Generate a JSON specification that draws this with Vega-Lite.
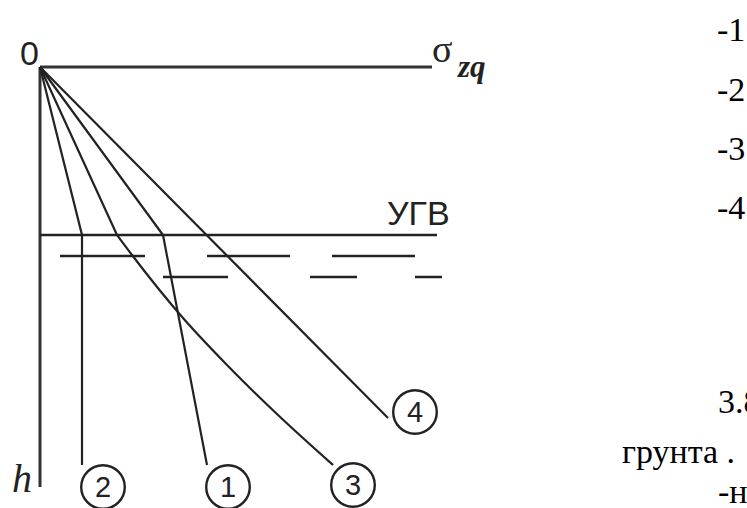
{
  "$schema": "https://vega.github.io/schema/vega-lite/v6.json",
  "width": 747,
  "height": 508,
  "autosize": "none",
  "padding": 0,
  "background": "white",
  "config": {"view": {"stroke": null}},
  "datasets": {
    "rules": [
      {"kind": "axis", "s": 0, "s2": 392, "h": 0, "h2": 0},
      {"kind": "axis", "s": 0, "s2": 0, "h": 0, "h2": 420},
      {"kind": "ugv", "s": 0, "s2": 397, "h": 168, "h2": 168},
      {"kind": "dash", "s": 20, "s2": 105, "h": 189, "h2": 189},
      {"kind": "dash", "s": 167, "s2": 250, "h": 189, "h2": 189},
      {"kind": "dash", "s": 292, "s2": 375, "h": 189, "h2": 189},
      {"kind": "dash", "s": 123, "s2": 188, "h": 210, "h2": 210},
      {"kind": "dash", "s": 270, "s2": 317, "h": 210, "h2": 210},
      {"kind": "dash", "s": 375, "s2": 402, "h": 210, "h2": 210}
    ],
    "straight": [
      {"curve": "1", "o": 0, "s": 0, "h": 0},
      {"curve": "1", "o": 1, "s": 123, "h": 168},
      {"curve": "1", "o": 2, "s": 167, "h": 398},
      {"curve": "2", "o": 0, "s": 0, "h": 0},
      {"curve": "2", "o": 1, "s": 42, "h": 168},
      {"curve": "2", "o": 2, "s": 42, "h": 398},
      {"curve": "3a", "o": 0, "s": 0, "h": 0},
      {"curve": "3a", "o": 1, "s": 77, "h": 168},
      {"curve": "4", "o": 0, "s": 0, "h": 0},
      {"curve": "4", "o": 1, "s": 348, "h": 351}
    ],
    "curved": [
      {"curve": "3b", "o": 0, "s": 77, "h": 168},
      {"curve": "3b", "o": 1, "s": 92, "h": 188},
      {"curve": "3b", "o": 2, "s": 143, "h": 251},
      {"curve": "3b", "o": 3, "s": 187, "h": 298},
      {"curve": "3b", "o": 4, "s": 238, "h": 348},
      {"curve": "3b", "o": 5, "s": 293, "h": 398}
    ],
    "markers": [
      {"n": "2", "s": 63, "h": 420},
      {"n": "1", "s": 188, "h": 420},
      {"n": "3", "s": 313, "h": 418},
      {"n": "4", "s": 375, "h": 345}
    ],
    "sans": [
      {"t": "0", "s": -20, "h": -2},
      {"t": "УГВ", "s": 347, "h": 158}
    ],
    "page": [
      {"t": "-1", "s": 677, "h": -26},
      {"t": "-2", "s": 677, "h": 34},
      {"t": "-3", "s": 677, "h": 93},
      {"t": "-4", "s": 677, "h": 152},
      {"t": "3.8", "s": 678, "h": 346},
      {"t": "грунта .", "s": 582, "h": 396},
      {"t": "-н", "s": 678, "h": 436}
    ]
  },
  "encoding": {
    "x": {"field": "s", "type": "quantitative", "axis": null, "scale": {"domain": [-40, 707], "nice": false, "zero": false}},
    "y": {"field": "h", "type": "quantitative", "axis": null, "scale": {"domain": [-67, 441], "nice": false, "zero": false, "reverse": true}}
  },
  "layer": [
    {
      "data": {"name": "rules"},
      "transform": [{"filter": "datum.kind == 'axis'"}],
      "mark": {"type": "rule", "color": "#333", "strokeWidth": 3},
      "encoding": {"x2": {"field": "s2"}, "y2": {"field": "h2"}}
    },
    {
      "data": {"name": "rules"},
      "transform": [{"filter": "datum.kind != 'axis'"}],
      "mark": {"type": "rule", "color": "#222", "strokeWidth": 2.5},
      "encoding": {"x2": {"field": "s2"}, "y2": {"field": "h2"}}
    },
    {
      "data": {"name": "straight"},
      "mark": {"type": "line", "color": "#222", "strokeWidth": 2.2},
      "encoding": {"detail": {"field": "curve"}, "order": {"field": "o"}}
    },
    {
      "data": {"name": "curved"},
      "mark": {"type": "line", "color": "#222", "strokeWidth": 2.2, "interpolate": "monotone"},
      "encoding": {"detail": {"field": "curve"}, "order": {"field": "o"}}
    },
    {
      "data": {"name": "markers"},
      "mark": {"type": "point", "shape": "circle", "filled": false, "size": 1900, "color": "#222", "strokeWidth": 2.4, "opacity": 1},
      "encoding": {}
    },
    {
      "data": {"name": "markers"},
      "mark": {"type": "text", "font": "Liberation Sans", "fontSize": 29, "color": "#222", "align": "center", "baseline": "middle", "dy": 1},
      "encoding": {"text": {"field": "n"}}
    },
    {
      "data": {"name": "sans"},
      "mark": {"type": "text", "font": "Liberation Sans", "fontSize": 34, "color": "#222", "align": "left", "baseline": "alphabetic"},
      "encoding": {"text": {"field": "t"}}
    },
    {
      "data": {"values": [{"t": "σ", "s": 392, "h": -5}]},
      "mark": {"type": "text", "font": "Times New Roman, Liberation Serif, DejaVu Serif, serif", "fontSize": 38, "color": "#222", "align": "left", "baseline": "alphabetic"},
      "encoding": {"text": {"field": "t"}}
    },
    {
      "data": {"values": [{"t": "zq", "s": 418, "h": 10}]},
      "mark": {"type": "text", "font": "Times New Roman, Liberation Serif, DejaVu Serif, serif", "fontSize": 31, "fontStyle": "italic", "fontWeight": "bold", "color": "#222", "align": "left", "baseline": "alphabetic"},
      "encoding": {"text": {"field": "t"}}
    },
    {
      "data": {"values": [{"t": "h", "s": -28, "h": 425}]},
      "mark": {"type": "text", "font": "Times New Roman, Liberation Serif, DejaVu Serif, serif", "fontSize": 40, "fontStyle": "italic", "color": "#222", "align": "left", "baseline": "alphabetic"},
      "encoding": {"text": {"field": "t"}}
    },
    {
      "data": {"name": "page"},
      "mark": {"type": "text", "font": "Times New Roman, Liberation Serif, DejaVu Serif, serif", "fontSize": 34, "color": "#000", "align": "left", "baseline": "alphabetic"},
      "encoding": {"text": {"field": "t"}}
    }
  ]
}
